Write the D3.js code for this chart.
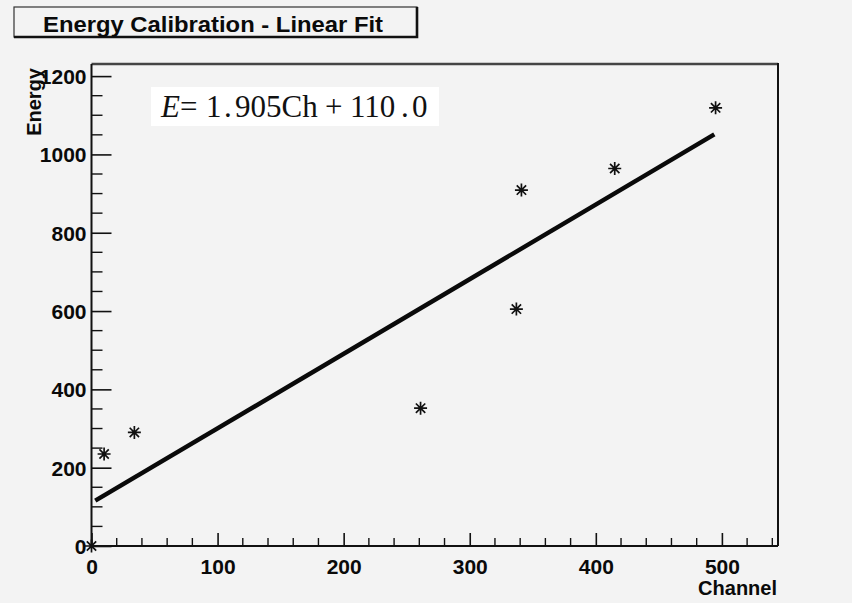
<!DOCTYPE html>
<html>
<head>
<meta charset="utf-8">
<script src="https://cdn.jsdelivr.net/npm/d3@7"></script>
<style>
  html, body { margin: 0; padding: 0; background: #f3f3f3; }
  svg { display: block; }
</style>
</head>
<body>
<svg id="chart" width="852" height="603"></svg>
<script>
// Calibration points: channel number vs. known energy
const channels = [0, 10, 34, 261, 337, 341, 415, 495];
const energies = [0, 235, 290, 352, 605, 909, 964, 1119];

// Linear fit parameters and the channel range the fit is drawn over
const fitSlope = 1.905;
const fitIntercept = 110.0;
const fitRange = [3, 494];

const xMajorTicks = [0, 100, 200, 300, 400, 500];
const yMajorTicks = [0, 200, 400, 600, 800, 1000, 1200];

const titleText = "Energy Calibration - Linear Fit";
const xTitle = "Channel";
const yTitle = "Energy";

const svg = d3.select("#chart");
const W = 852, H = 603;
const frame = { left: 91.5, right: 778, top: 64, bottom: 546 };

svg.append("rect").attr("width", W).attr("height", H).attr("fill", "#f3f3f3");

// Axis ranges: data extent plus 10% headroom, starting at zero
const x = d3.scaleLinear()
  .domain([0, d3.max(channels) * 1.1])
  .range([frame.left, frame.right]);
const y = d3.scaleLinear()
  .domain([0, d3.max(energies) * 1.1])
  .range([frame.bottom, frame.top]);

// Frame: top and right edges
svg.append("line")
  .attr("x1", frame.left).attr("x2", frame.right)
  .attr("y1", frame.top).attr("y2", frame.top)
  .attr("stroke", "#444").attr("stroke-width", 2.5);
svg.append("line")
  .attr("x1", frame.right).attr("x2", frame.right)
  .attr("y1", frame.top - 1).attr("y2", frame.bottom)
  .attr("stroke", "#111").attr("stroke-width", 2);

const tickFont = "'Liberation Sans', Arial, Helvetica, sans-serif";

// X axis: majors every 100, minors every 20, ticks pointing into the frame
const xAxis = d3.axisBottom(x)
  .tickValues(xMajorTicks)
  .tickSize(-13)
  .tickPadding(24)
  .tickFormat(d3.format("d"));
const gx = svg.append("g")
  .attr("transform", `translate(0,${frame.bottom})`)
  .call(xAxis);
gx.select(".domain").attr("stroke", "#111").attr("stroke-width", 2)
  .attr("d", `M${frame.left},0H${frame.right}`);
gx.selectAll(".tick line").attr("stroke", "#111").attr("stroke-width", 1.6);
gx.selectAll(".tick text")
  .attr("font-family", tickFont).attr("font-size", 21).attr("font-weight", "bold")
  .attr("fill", "#0a0a0a").attr("dy", "0.2em");

const xMinor = d3.range(20, x.domain()[1], 20).filter(v => v % 100 !== 0);
svg.append("g").selectAll("line").data(xMinor).join("line")
  .attr("x1", d => x(d)).attr("x2", d => x(d))
  .attr("y1", frame.bottom).attr("y2", frame.bottom - 8)
  .attr("stroke", "#111").attr("stroke-width", 1.4);

// Y axis: majors every 200, minors every 50, ticks pointing into the frame
const yAxis = d3.axisLeft(y)
  .tickValues(yMajorTicks)
  .tickSize(-20)
  .tickPadding(5)
  .tickFormat(d3.format("d"));
const gy = svg.append("g")
  .attr("transform", `translate(${frame.left},0)`)
  .call(yAxis);
gy.select(".domain").attr("stroke", "#111").attr("stroke-width", 2)
  .attr("d", `M0,${frame.top}V${frame.bottom}`);
gy.selectAll(".tick line").attr("stroke", "#111").attr("stroke-width", 1.6);
gy.selectAll(".tick text")
  .attr("font-family", tickFont).attr("font-size", 21).attr("font-weight", "bold")
  .attr("fill", "#0a0a0a").attr("dy", "0.36em");

const yMinor = d3.range(50, y.domain()[1], 50).filter(v => v % 200 !== 0);
svg.append("g").selectAll("line").data(yMinor).join("line")
  .attr("x1", frame.left).attr("x2", frame.left + 11)
  .attr("y1", d => y(d)).attr("y2", d => y(d))
  .attr("stroke", "#111").attr("stroke-width", 1.4);

// Axis titles
svg.append("text")
  .attr("x", frame.right - 1).attr("y", 595)
  .attr("text-anchor", "end")
  .attr("font-family", tickFont).attr("font-size", 20).attr("font-weight", "bold")
  .attr("fill", "#0a0a0a")
  .text(xTitle);
svg.append("text")
  .attr("transform", `translate(41,${frame.top + 4}) rotate(-90)`)
  .attr("text-anchor", "end")
  .attr("font-family", tickFont).attr("font-size", 20).attr("font-weight", "bold")
  .attr("fill", "#0a0a0a")
  .text(yTitle);

// Fit line
const fitLine = d3.line()
  .x(d => x(d))
  .y(d => y(fitSlope * d + fitIntercept));
svg.append("path")
  .datum(fitRange)
  .attr("d", fitLine)
  .attr("fill", "none")
  .attr("stroke", "#0a0a0a")
  .attr("stroke-width", 4.5)
  .attr("stroke-linecap", "butt");

// Data points drawn as eight-armed asterisks
const pts = channels.map((c, i) => ({ c, e: energies[i] }));
const r = 6.5;
const star = `M${-r},0H${r}M0,${-r}V${r}` +
  `M${-r * 0.72},${-r * 0.72}L${r * 0.72},${r * 0.72}` +
  `M${-r * 0.72},${r * 0.72}L${r * 0.72},${-r * 0.72}`;
svg.append("g").selectAll("path").data(pts).join("path")
  .attr("transform", d => `translate(${x(d.c)},${y(d.e)})`)
  .attr("d", star)
  .attr("fill", "none")
  .attr("stroke", "#111")
  .attr("stroke-width", 1.7);

// Fit equation in a white box
svg.append("rect")
  .attr("x", 151).attr("y", 87).attr("width", 288).attr("height", 39)
  .attr("fill", "#ffffff");
const eq = svg.append("text")
  .attr("y", 117)
  .attr("font-family", "'Liberation Serif', 'Times New Roman', serif")
  .attr("font-size", 31)
  .attr("fill", "#111");
const slopeStr = fitSlope.toFixed(3).split(".");
const interStr = fitIntercept.toFixed(1).split(".");
const eqParts = [
  { t: "E", x: 161, italic: true },
  { t: "=", x: 180 },
  { t: slopeStr[0], x: 206 },
  { t: ".", x: 224 },
  { t: slopeStr[1] + "Ch", x: 235 },
  { t: "+", x: 325 },
  { t: interStr[0], x: 350 },
  { t: ".", x: 401 },
  { t: interStr[1], x: 412 }
];
eqParts.forEach(p => {
  eq.append("tspan")
    .attr("x", p.x)
    .attr("font-style", p.italic ? "italic" : "normal")
    .text(p.t);
});

// Title box with a drop shadow on the right and bottom edges
const tb = { x: 14, y: 7, w: 403, h: 30 };
svg.append("rect")
  .attr("x", tb.x).attr("y", tb.y).attr("width", tb.w).attr("height", tb.h)
  .attr("fill", "#f3f3f3").attr("stroke", "#333").attr("stroke-width", 1.2);
svg.append("path")
  .attr("d", `M${tb.x + tb.w},${tb.y}V${tb.y + tb.h}H${tb.x}`)
  .attr("fill", "none").attr("stroke", "#111").attr("stroke-width", 2.6);
svg.append("text")
  .attr("x", 43).attr("y", 31.5)
  .attr("textLength", 340).attr("lengthAdjust", "spacingAndGlyphs")
  .attr("font-family", tickFont).attr("font-size", 22.5).attr("font-weight", "bold")
  .attr("fill", "#0a0a0a")
  .text(titleText);
</script>
</body>
</html>
